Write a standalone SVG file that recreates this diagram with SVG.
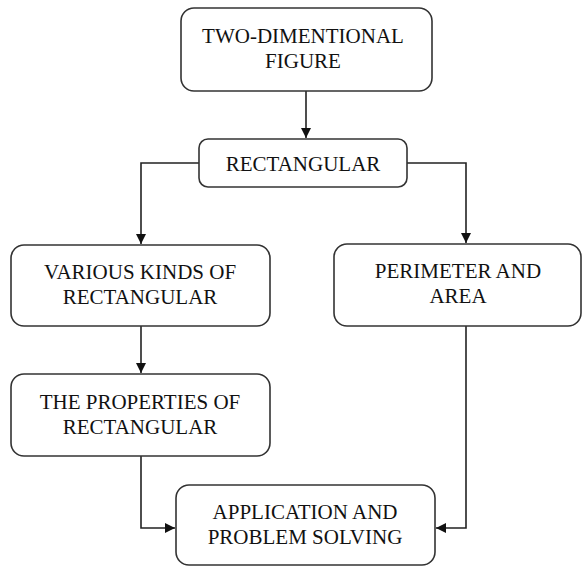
<svg xmlns="http://www.w3.org/2000/svg" width="583" height="567" viewBox="0 0 583 567">
<style>
.box{fill:#fff;stroke:#333;stroke-width:1.6}
.lbl{font-family:"Liberation Serif","Times New Roman",serif;font-size:21px;fill:#111;text-anchor:middle}
.con{fill:none;stroke:#222;stroke-width:1.6}
</style>
<defs>
<marker id="ah" viewBox="0 0 10 10" refX="10" refY="5" markerWidth="10" markerHeight="10" markerUnits="userSpaceOnUse" orient="auto">
<path d="M0,0 L10,5 L0,10 Z" fill="#111"/>
</marker>
</defs>
<rect width="583" height="567" fill="#fff"/>
<g id="connectors">
<line class="con" x1="306" y1="91" x2="306" y2="138" marker-end="url(#ah)"/>
<polyline class="con" points="199,163 141,163 141,244" marker-end="url(#ah)"/>
<polyline class="con" points="407,163 466,163 466,243" marker-end="url(#ah)"/>
<line class="con" x1="141" y1="326" x2="141" y2="373" marker-end="url(#ah)"/>
<polyline class="con" points="141,456 141,528 175,528" marker-end="url(#ah)"/>
<polyline class="con" points="466,326 466,528 436,528" marker-end="url(#ah)"/>
</g>
<g id="n1">
<rect class="box" x="181" y="8" width="251" height="83" rx="13"/>
<text class="lbl" x="303" y="43">TWO-DIMENTIONAL</text>
<text class="lbl" x="303" y="68">FIGURE</text>
</g>
<g id="n2">
<rect class="box" x="199" y="139" width="208" height="48" rx="9"/>
<text class="lbl" x="303" y="171">RECTANGULAR</text>
</g>
<g id="n3">
<rect class="box" x="11" y="245" width="259" height="81" rx="13"/>
<text class="lbl" x="140" y="279">VARIOUS KINDS OF</text>
<text class="lbl" x="140" y="304">RECTANGULAR</text>
</g>
<g id="n4">
<rect class="box" x="334" y="244" width="247" height="82" rx="13"/>
<text class="lbl" x="458" y="278">PERIMETER AND</text>
<text class="lbl" x="458" y="303">AREA</text>
</g>
<g id="n5">
<rect class="box" x="11" y="374" width="259" height="82" rx="13"/>
<text class="lbl" x="140" y="409">THE PROPERTIES OF</text>
<text class="lbl" x="140" y="434">RECTANGULAR</text>
</g>
<g id="n6">
<rect class="box" x="176" y="485" width="259" height="80" rx="13"/>
<text class="lbl" x="305" y="519">APPLICATION AND</text>
<text class="lbl" x="305" y="544">PROBLEM SOLVING</text>
</g>
</svg>
